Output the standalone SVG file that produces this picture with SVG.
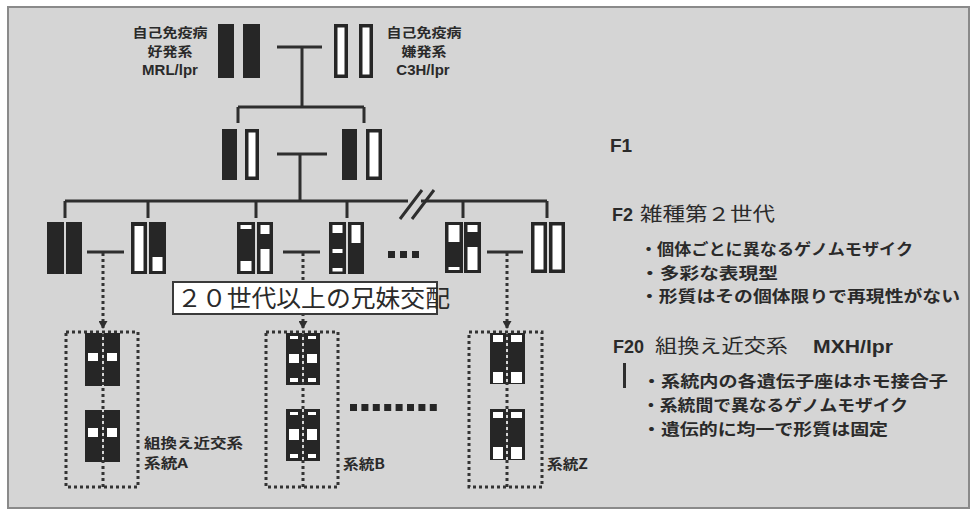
<svg xmlns="http://www.w3.org/2000/svg" width="972" height="512" viewBox="0 0 972 512">
<style>
.k{fill:#262626}
.w{fill:#ffffff}
.ln{stroke:#2e2e2e;stroke-width:3;fill:none}
.dt{stroke:#333;stroke-width:3;stroke-dasharray:3 3;fill:none}
.t{font-family:"Liberation Sans","Noto Sans CJK JP",sans-serif;fill:#2a2a2a}
.b{font-weight:bold}
.j{font-family:"Noto Sans CJK JP",sans-serif;fill:#2a2a2a}
</style>
<defs>
<marker id="ah" markerWidth="9" markerHeight="9" refX="8" refY="4.5" orient="auto" markerUnits="userSpaceOnUse">
<path d="M0,0 L8,4.5 L0,9 z" fill="#2e2e2e"/>
</marker>
</defs>
<rect x="0" y="0" width="972" height="512" fill="#ffffff"/>
<rect x="8" y="7" width="961" height="501" fill="#d5d5d5" stroke="#8a8a8a" stroke-width="2"/>

<g id="connectors">
<path class="ln" d="M277,47H322M302,47V107M238,107H364M238,107V123M364,107V123"/>
<path class="ln" d="M277,154H327M300,154V201"/>
<path class="ln" d="M65,201H408M421,201H547"/>
<path class="ln" d="M65,201V218M148,201V218M256,201V218M347,201V218M463,201V218M547,201V218"/>
<path class="ln" d="M400,219L422,190M412,219L434,190"/>
<path class="ln" d="M87,252H124M283,252H320M487,252H523"/>
<path class="dt" d="M103,253V329" marker-end="url(#ah)"/>
<path class="dt" d="M303,253V329" marker-end="url(#ah)"/>
<path class="dt" d="M507,253V329" marker-end="url(#ah)"/>
<path class="dt" d="M103,334V487M303,334V487M507,334V487"/>
<rect class="dt" x="66" y="332" width="72" height="155"/>
<rect class="dt" x="266" y="332" width="72" height="155"/>
<rect class="dt" x="469" y="332" width="73" height="155"/>
</g>

<g id="parent-mrl">
<rect class="k" x="218" y="24" width="16" height="54"/>
<rect class="k" x="243" y="24" width="17" height="54"/>
<text class="j b" font-size="13" text-anchor="middle" x="170" y="37" textLength="75" lengthAdjust="spacingAndGlyphs">自己免疫病</text>
<text class="j b" font-size="13" text-anchor="middle" x="170" y="56" textLength="45" lengthAdjust="spacingAndGlyphs">好発系</text>
<text class="t b" font-size="15" text-anchor="middle" x="170" y="75">MRL/lpr</text>
</g>
<g id="parent-c3h">
<rect class="k" x="334" y="24" width="14" height="54"/><rect class="w" x="337.5" y="27.5" width="7" height="47"/>
<rect class="k" x="359" y="24" width="14" height="54"/><rect class="w" x="362.5" y="27.5" width="7" height="47"/>
<text class="j b" font-size="13" text-anchor="middle" x="424" y="37" textLength="75" lengthAdjust="spacingAndGlyphs">自己免疫病</text>
<text class="j b" font-size="13" text-anchor="middle" x="424" y="56" textLength="45" lengthAdjust="spacingAndGlyphs">嫌発系</text>
<text class="t b" font-size="15" text-anchor="middle" x="423" y="75">C3H/lpr</text>
</g>

<g id="f1-a">
<rect class="k" x="222" y="129" width="15" height="51"/>
<rect class="k" x="245" y="129" width="14" height="51"/><rect class="w" x="248.5" y="132.5" width="7" height="44"/>
</g>
<g id="f1-b">
<rect class="k" x="342" y="129" width="15" height="51"/>
<rect class="k" x="366" y="129" width="16" height="51"/><rect class="w" x="369.5" y="132.5" width="9" height="44"/>
</g>

<g id="f2-1">
<rect class="k" x="47" y="222" width="17" height="52"/>
<rect class="k" x="66" y="222" width="16" height="52"/>
</g>
<g id="f2-2">
<rect class="k" x="131" y="222" width="16" height="52"/><rect class="w" x="134.5" y="226" width="9" height="45"/>
<rect class="k" x="149" y="222" width="17" height="52"/><rect class="w" x="152.5" y="257" width="10" height="14"/>
</g>
<g id="f2-3">
<rect class="k" x="237" y="222" width="18" height="52"/><rect class="w" x="240.5" y="225" width="11" height="4"/><rect class="w" x="240.5" y="261" width="11" height="10"/>
<rect class="k" x="257" y="222" width="16" height="52"/><rect class="w" x="260.5" y="225" width="9" height="9"/><rect class="w" x="260.5" y="249" width="9" height="22"/>
</g>
<g id="f2-4">
<rect class="k" x="329" y="222" width="17" height="52"/><rect class="w" x="332.5" y="225" width="10" height="8"/><rect class="w" x="332.5" y="249" width="10" height="4"/><rect class="w" x="332.5" y="268" width="10" height="3.5"/>
<rect class="k" x="348" y="222" width="16" height="52"/><rect class="w" x="351.5" y="225" width="9" height="18"/>
</g>
<g id="f2-dots">
<rect class="k" x="388" y="251" width="7" height="7"/><rect class="k" x="400" y="251" width="7" height="7"/><rect class="k" x="412" y="251" width="7" height="7"/>
</g>
<g id="f2-5">
<rect class="k" x="445" y="222" width="18" height="51"/><rect class="w" x="448.5" y="225" width="11" height="17"/><rect class="w" x="448.5" y="267" width="11" height="3"/>
<rect class="k" x="464" y="222" width="17" height="51"/><rect class="w" x="467.5" y="225" width="10" height="7"/><rect class="w" x="467.5" y="247" width="10" height="23"/>
</g>
<g id="f2-6">
<rect class="k" x="531" y="222" width="16" height="51"/><rect class="w" x="534.5" y="225.5" width="9" height="44"/>
<rect class="k" x="549" y="222" width="16" height="51"/><rect class="w" x="552.5" y="225.5" width="9" height="44"/>
</g>

<g id="label-inbreeding">
<rect x="173" y="282" width="264" height="32" fill="#ffffff" stroke="#3a3a3a" stroke-width="2"/>
<text class="j" font-size="24" x="177" y="307" textLength="273" lengthAdjust="spacingAndGlyphs">２０世代以上の兄妹交配</text>
</g>

<g id="line-a">
<rect class="k" x="85" y="333" width="17" height="53"/><rect class="w" x="88" y="353" width="10" height="8"/>
<rect class="k" x="104" y="333" width="16" height="53"/><rect class="w" x="107" y="353" width="10" height="8"/>
<rect class="k" x="85" y="410" width="17" height="52"/><rect class="w" x="88" y="428" width="10" height="9"/>
<rect class="k" x="104" y="410" width="16" height="52"/><rect class="w" x="107" y="428" width="10" height="9"/>
<text class="j b" font-size="13.5" x="144" y="448" textLength="99" lengthAdjust="spacingAndGlyphs">組換え近交系</text>
<text class="j b" font-size="13.5" x="144" y="468" textLength="44" lengthAdjust="spacingAndGlyphs">系統A</text>
</g>
<g id="line-b">
<rect class="k" x="286" y="333" width="16" height="52"/><rect class="w" x="290" y="336" width="8" height="3"/><rect class="w" x="289" y="354" width="10" height="9"/><rect class="w" x="290" y="378" width="8" height="4"/>
<rect class="k" x="304" y="333" width="16" height="52"/><rect class="w" x="308" y="336" width="8" height="3"/><rect class="w" x="307" y="354" width="10" height="9"/><rect class="w" x="308" y="378" width="8" height="4"/>
<rect class="k" x="286" y="409" width="16" height="52"/><rect class="w" x="290" y="412" width="8" height="3"/><rect class="w" x="289" y="429" width="10" height="11"/><rect class="w" x="290" y="454" width="8" height="4"/>
<rect class="k" x="304" y="409" width="16" height="52"/><rect class="w" x="308" y="412" width="8" height="3"/><rect class="w" x="307" y="429" width="10" height="11"/><rect class="w" x="308" y="454" width="8" height="4"/>
<text class="j b" font-size="14" x="343" y="469" textLength="42" lengthAdjust="spacingAndGlyphs">系統B</text>
</g>
<g id="ellipsis">
<line x1="350" y1="407.5" x2="437" y2="407.5" stroke="#262626" stroke-width="7" stroke-dasharray="7 4.4"/>
</g>
<g id="line-z">
<rect class="k" x="490" y="333" width="16" height="51"/><rect class="w" x="493" y="335" width="10" height="7"/><rect class="w" x="493" y="372" width="10" height="11"/>
<rect class="k" x="508" y="333" width="17" height="51"/><rect class="w" x="511" y="335" width="11" height="7"/><rect class="w" x="511" y="372" width="11" height="11"/>
<rect class="k" x="490" y="409" width="16" height="51"/><rect class="w" x="493" y="412" width="10" height="6"/><rect class="w" x="493" y="447" width="10" height="12"/>
<rect class="k" x="508" y="409" width="17" height="51"/><rect class="w" x="511" y="412" width="11" height="6"/><rect class="w" x="511" y="447" width="11" height="12"/>
<text class="j b" font-size="14" x="547" y="469" textLength="41" lengthAdjust="spacingAndGlyphs">系統Z</text>
</g>

<g id="legend-f1">
<text class="t b" font-size="19" x="610" y="152">F1</text>
</g>
<g id="legend-f2">
<text class="t b" font-size="18" x="612" y="221">F2</text>
<text class="j" font-size="19" x="640" y="221" textLength="135" lengthAdjust="spacingAndGlyphs">雑種第２世代</text>
<text class="j b" font-size="15.5" x="640" y="255" textLength="273" lengthAdjust="spacingAndGlyphs">・個体ごとに異なるゲノムモザイク</text>
<text class="j b" font-size="15.5" x="640" y="279" textLength="138" lengthAdjust="spacingAndGlyphs">・多彩な表現型</text>
<text class="j b" font-size="15.5" x="640" y="302" textLength="320" lengthAdjust="spacingAndGlyphs">・形質はその個体限りで再現性がない</text>
</g>
<g id="legend-f20">
<text class="t b" font-size="18" x="613" y="353">F20</text>
<text class="j" font-size="19" x="655" y="353" textLength="133" lengthAdjust="spacingAndGlyphs">組換え近交系</text>
<text class="t b" font-size="19" x="813" y="353" textLength="80" lengthAdjust="spacingAndGlyphs">MXH/lpr</text>
<line x1="624.5" y1="363" x2="624.5" y2="388" stroke="#2e2e2e" stroke-width="3"/>
<text class="j b" font-size="16" x="642" y="387" textLength="306" lengthAdjust="spacingAndGlyphs">・系統内の各遺伝子座はホモ接合子</text>
<text class="j b" font-size="16" x="642" y="411" textLength="266" lengthAdjust="spacingAndGlyphs">・系統間で異なるゲノムモザイク</text>
<text class="j b" font-size="16" x="642" y="435" textLength="246" lengthAdjust="spacingAndGlyphs">・遺伝的に均一で形質は固定</text>
</g>
</svg>
